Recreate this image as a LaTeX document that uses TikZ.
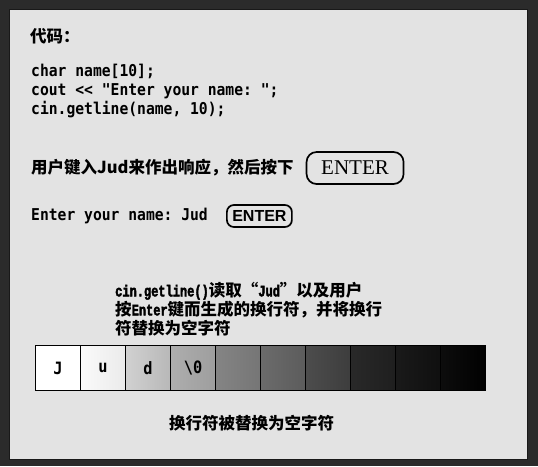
\documentclass[tikz,border=0pt]{standalone}
\usepackage{fontspec}
\setmainfont{Liberation Serif}
\setsansfont{Liberation Sans}
\setmonofont[FakeStretch=0.9]{DejaVu Sans Mono}
\newfontfamily\cjk{Noto Sans CJK SC}
\newfontfamily\slabmono[FakeStretch=0.75, FakeBold=2.5]{Liberation Mono Bold}
\newcommand\lat[1]{{\slabmono\fontsize{16}{19}\selectfont #1}}
\usetikzlibrary{positioning, calc}
\tikzset{code/.style={anchor=west, inner sep=0pt, align=left, font=\ttfamily\bfseries\fontsize{16.3}{19}\selectfont}}
\tikzset{zh/.style={anchor=west, inner sep=0pt, align=left, font=\cjk\bfseries\fontsize{16.5}{19}\selectfont}}
\tikzset{key/.style={draw, line width=1.7pt, inner sep=0pt}}
\tikzset{cell/.style={draw, line width=1.2pt, minimum width=45pt, minimum height=45pt, inner sep=0pt, anchor=north west, font=\ttfamily\bfseries\fontsize{17}{17}\selectfont}}

\begin{document}
\begin{tikzpicture}[x=1pt, y=-1pt]
      \fill[black!83] (0,0) rectangle (538,466);
      \draw[fill=black!11, draw=black!90, line width=1pt] (9,9) rectangle (527,459);

      \node[zh] (title) at (30,36) {代码：};
      \node[code] (code) at (31,91) {char name[10];\\
        cout << "Enter your name: ";\\
        cin.getline(name, 10);};

      \node[zh] (prompt) at (31,168) {用户键入Jud来作出响应，然后按下};
      \node[key, rounded corners=10pt, minimum width=97pt, minimum height=32pt,
        font=\rmfamily\fontsize{21}{21}\selectfont] (bigkey) [right=12pt of prompt] {ENTER};

      \node[code] (sample) at (31,216) {Enter your name: Jud};
      \node[key, rounded corners=7pt, minimum width=65pt, minimum height=22pt,
        font=\sffamily\bfseries\fontsize{16}{16}\selectfont] (smallkey) [right=18pt of sample] {ENTER};

      \node[zh] (note) at (115,309) {\lat{cin.getline()}读取“\lat{Jud}”以及用户\\
        按\lat{Enter}键而生成的换行符，并将换行\\
        符替换为空字符};

      \foreach \i/\l/\r/\t in {0/0/0/J, 1/2/8/u, 2/18/28/d, 3/32/38/\textbackslash0,
        4/48/54/, 5/58/64/, 6/70/76/, 7/84/88/, 8/90/94/, 9/95/100/}
        \node[cell, left color=black!\l, right color=black!\r] (c\i) at (35+45*\i,345) {\t};

      \node[zh, anchor=center] (result) at (251.5,423) {换行符被替换为空字符};
\end{tikzpicture}
\end{document}
